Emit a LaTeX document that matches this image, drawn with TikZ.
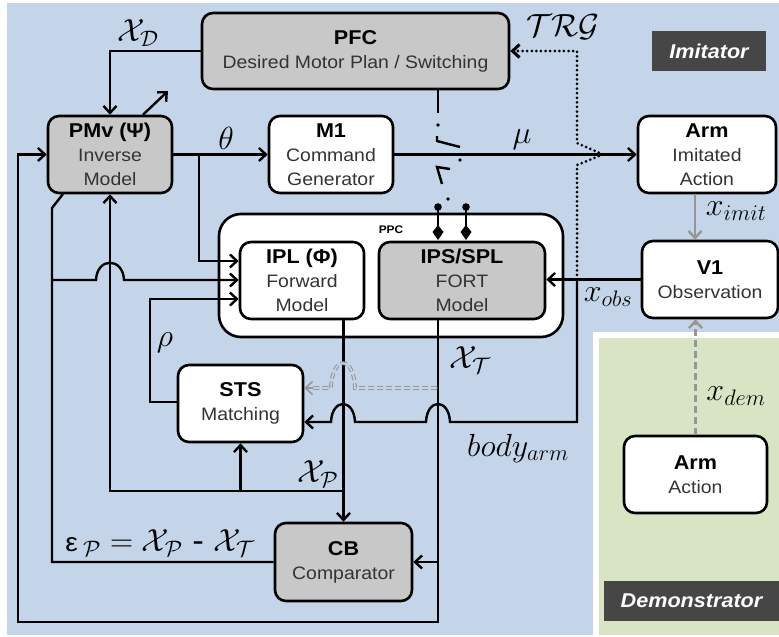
\documentclass[tikz,border=0pt]{standalone}
\usepackage{fix-cm}
\usepackage[no-math]{fontspec}
\setmainfont{Liberation Sans}[FakeStretch=1.08]
\usetikzlibrary{arrows.meta}
\definecolor{bluebg}{RGB}{197,213,233}
\definecolor{greenbg}{RGB}{216,228,196}
\definecolor{boxgray}{RGB}{200,200,200}
\definecolor{labgray}{RGB}{70,70,70}
\definecolor{lgray}{RGB}{150,150,150}
\newcommand{\boxtitle}[1]{{\fontsize{20}{24}\selectfont\bfseries\color{black}#1}}
\begin{document}
\begin{tikzpicture}[x=1pt,y=-1pt,
  box/.style={draw, line width=2.6pt, rounded corners=11pt, align=center, inner sep=0pt, text=black!80, font=\fontsize{18}{24}\selectfont},
  gbox/.style={box, fill=boxgray},
  wbox/.style={box, fill=white},
  conn/.style={line width=2.4pt},
  arr/.style={conn, -{Straight Barb[length=7pt,width=13pt]}},
  garr/.style={line width=2.4pt, draw=lgray, -{Straight Barb[length=7pt,width=13pt]}},
  dotline/.style={line width=3pt, dash pattern=on 0pt off 4.6pt, line cap=round},
  dbl/.style={draw=lgray, line width=1.1pt, double=bluebg, double distance=1.6pt, dash pattern=on 6pt off 3pt},
  lab/.style={font=\fontsize{32}{36}\selectfont, inner sep=0pt},
  tag/.style={fill=labgray, text=white, font=\fontsize{20}{24}\selectfont\bfseries\itshape, inner sep=0pt}
]
\useasboundingbox (0,0) rectangle (779,637);
% backgrounds
\fill[white] (0,0) rectangle (779,637);
\fill[bluebg] (7,3) rectangle (779,635);
\fill[white] (593,332) rectangle (779,637);
\fill[greenbg] (599,338) rectangle (779,635);

% nodes
\node[gbox, minimum width=307pt, minimum height=76pt] (PFC) at (355.5,51) {\boxtitle{PFC}\\Desired Motor Plan / Switching};
\node[tag, minimum width=114pt, minimum height=40pt] (imit) at (709,51) {Imitator};
\node[tag, minimum width=175pt, minimum height=40pt] (demo) at (691.5,601) {Demonstrator};
\node[gbox, minimum width=124pt, minimum height=77pt] (PMv) at (110,154.5) {\boxtitle{PMv (Ψ)}\\Inverse\\Model};
\node[wbox, minimum width=124pt, minimum height=77pt] (M1) at (331,154.5) {\boxtitle{M1}\\Command\\Generator};
\node[wbox, minimum width=138pt, minimum height=77pt] (ArmI) at (707,154.5) {\boxtitle{Arm}\\Imitated\\Action};
\node[wbox, minimum width=136pt, minimum height=77pt] (V1) at (710,279.5) {\boxtitle{V1}\\Observation};
\node[wbox, rounded corners=22pt, minimum width=344pt, minimum height=123pt] (PPC) at (391,275.5) {};
\node[font=\fontsize{11}{12}\selectfont\bfseries, inner sep=0pt] (PPClab) at (391,230) {PPC};
\node[wbox, minimum width=124pt, minimum height=77pt] (IPL) at (302,280.5) {\boxtitle{IPL (Φ)}\\Forward\\Model};
\node[gbox, minimum width=166pt, minimum height=77pt] (IPS) at (462,280.5) {\boxtitle{IPS/SPL}\\FORT\\Model};
\node[wbox, minimum width=125pt, minimum height=77pt] (STS) at (240.5,403.5) {\boxtitle{STS}\\Matching};
\node[gbox, minimum width=137pt, minimum height=78pt] (CB) at (343.5,562) {\boxtitle{CB}\\Comparator};
\node[wbox, minimum width=143pt, minimum height=77pt] (ArmD) at (695.5,474.5) {\boxtitle{Arm}\\Action};

% labels
\node[lab] (lXD) at (138,33) {$\mathcal{X}_{\mathcal{D}}$};
\node[lab] (lth) at (226,138) {$\theta$};
\node[lab] (lmu) at (522,140) {$\mu$};
\node[lab] (ltrg) at (563,27) {$\mathcal{TRG}$};
\node[lab] (limit) at (736,211) {$x_{imit}$};
\node[lab] (lobs) at (608,297) {$x_{obs}$};
\node[lab] (lXT) at (470,360) {$\mathcal{X}_{\mathcal{T}}$};
\node[lab] (ldem) at (736,396) {$x_{dem}$};
\node[lab] (lbody) at (518,448) {$body_{arm}$};
\node[lab] (lrho) at (165,343) {$\rho$};
\node[lab] (lXP) at (318,474) {$\mathcal{X}_{\mathcal{P}}$};
\node[lab] (leps) at (160,543) {{\fontsize{26}{30}\selectfont ε}\,$_{\mathcal{P}} = \mathcal{X}_{\mathcal{P}}$ - $\mathcal{X}_{\mathcal{T}}$};

% coordinates
\coordinate (jth) at (199,154.5);
\coordinate (jobs) at (577,279.5);
\coordinate (jP) at (343.5,491);
\coordinate (jT) at (438,562);
\coordinate (plast) at (168,91);
\coordinate (mod) at (63,194);

% connectors
\draw[arr] (PFC.west) -| (PMv.north);
\draw[arr] (PMv.north -| 143,0) -- (plast);
\draw[arr] (PMv.east) -- (M1.west);
\draw[arr] (jth) |- (IPL.west |- 0,261);
\draw[arr] (M1.east) -- (ArmI.west);
\draw[arr] (V1.west) -- (IPS.east |- V1.west);
\draw[dotline, -{Straight Barb[length=7pt,width=13pt]}] (jobs) -- (577,165) -- (603,154.5) -- (577,143) -- (577,51) -- (PFC.east);
\draw[arr] (jobs) -- (577,422) -- (450,422) .. controls (449,398) and (427,398) .. (426,422) -- (355,422) .. controls (354,398) and (332,398) .. (331,422) -- (STS.east |- 0,422);
\draw[garr] (ArmI.south -| 695,0) -- (V1.north -| 695,0);
\draw[garr, dash pattern=on 7pt off 4pt] (ArmD.north) -- (V1.south -| ArmD.north);
\draw[arr] (IPL.south -| CB.north) -- (CB.north);
\draw[arr] (jP) -| (PMv.south);
\draw[arr] (STS.south |- jP) -- (STS.south);
\draw[arr] (IPS.south -| 438,0) -- (438,622) -- (18,622) |- (PMv.west);
\draw[arr] (jT) -- (CB.east);
\draw[conn] (CB.west) -| (52,208) -- (mod);
\draw[arr] (52,280) -- (96,280) .. controls (97,257) and (123,257) .. (124,280) -- (IPL.west |- 0,280);
\draw[arr] (STS.west |- 0,402) -| (150,299) -- (IPL.west |- 0,299);
\draw[dbl] (437,388) -- (355,388) .. controls (354,355) and (332,355) .. (331,388) -- (311,388);
\draw[garr, line width=1.6pt] (313,388) -- (STS.east |- 0,388);

% switch
\draw[conn] (PFC.south -| 438,0) -- (438,113);
\fill (438,125) circle (1.8);
\draw[line width=2.4pt] (437,136) -- (437,141) -- (460,147);
\fill (460,160) circle (1.8);
\draw[line width=2.4pt] (450,169) -- (437,167) -- (442,184);
\fill (448,199) circle (1.8);
\foreach \xx in {438,466} {
  \draw[line width=2pt] (\xx,207) -- (\xx,236);
  \fill (\xx,207) circle (3.8);
  \fill (\xx,225) -- (\xx+5.5,232) -- (\xx,240) -- (\xx-5.5,232) -- cycle;
}
\end{tikzpicture}
\end{document}
